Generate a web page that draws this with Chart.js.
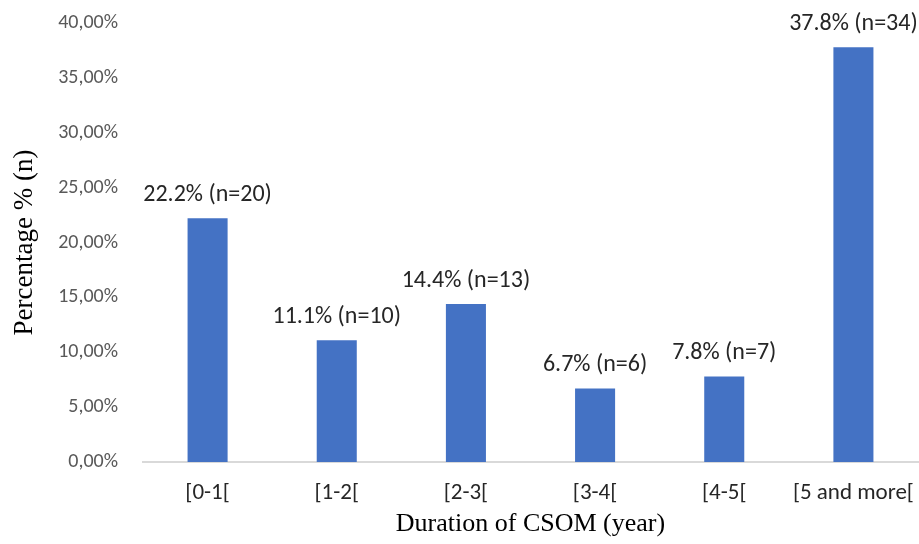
<!DOCTYPE html>
<html>
<head>
<meta charset="utf-8">
<script src="https://cdn.jsdelivr.net/npm/chart.js@4"></script>
<style>
  html, body { margin: 0; padding: 0; background: #fff; }
  #wrap { width: 919px; height: 544px; }
</style>
</head>
<body>
<div id="wrap"><canvas id="c" width="919" height="544"></canvas></div>
<script>
// Duration of chronic suppurative otitis media, share of patients per class
const categories = ['[0-1[', '[1-2[', '[2-3[', '[3-4[', '[4-5[', '[5 and more['];
const percentages = [22.2, 11.1, 14.4, 6.7, 7.8, 37.8];
const counts = [20, 10, 13, 6, 7, 34];
const yTicks = [0, 5, 10, 15, 20, 25, 30, 35, 40];

const tickFont = "Carlito, Lato, 'Liberation Sans', sans-serif";
const titleFont = "'Liberation Serif', 'DejaVu Serif', serif";

// Writes "xx.x% (n=..)" above each bar
const valueLabels = {
  id: 'valueLabels',
  afterDatasetsDraw(chart) {
    const ctx = chart.ctx;
    const meta = chart.getDatasetMeta(0);
    ctx.save();
    ctx.font = '24px ' + tickFont;
    ctx.fillStyle = '#262626';
    ctx.textAlign = 'center';
    ctx.textBaseline = 'alphabetic';
    meta.data.forEach((bar, i) => {
      const txt = percentages[i].toFixed(1) + '% (n=' + counts[i] + ')';
      ctx.fillText(txt, bar.x, bar.y - 17);
    });
    ctx.restore();
  }
};

new Chart(document.getElementById('c'), {
  type: 'bar',
  data: {
    labels: categories,
    datasets: [{
      data: percentages,
      backgroundColor: '#4472C4',
      borderWidth: 0,
      barPercentage: 1,
      categoryPercentage: 0.31
    }]
  },
  options: {
    responsive: false,
    animation: false,
    layout: { padding: { top: 23, right: 1, left: 0, bottom: 0 } },
    plugins: { legend: { display: false }, tooltip: { enabled: false } },
    scales: {
      x: {
        afterFit(scale) {
          scale.height = 82;
          scale.paddingLeft = 0;
          scale.paddingRight = 0;
        },
        grid: { display: false },
        border: { display: true, color: '#d9d9d9', width: 2 },
        ticks: { color: '#262626', font: { family: tickFont, size: 23 }, padding: 9, maxRotation: 0 },
        title: {
          display: true,
          text: 'Duration of CSOM (year)',
          color: '#000',
          font: { family: titleFont, size: 26 },
          padding: { top: 2, bottom: 4 }
        }
      },
      y: {
        min: 0,
        max: 40,
        afterBuildTicks(scale) { scale.ticks = yTicks.map(v => ({ value: v })); },
        afterFit(scale) {
          scale.width = 143;
          scale.paddingTop = 0;
          scale.paddingBottom = 0;
        },
        grid: { display: false, drawTicks: false },
        border: { display: false },
        ticks: {
          color: '#595959',
          font: { family: tickFont, size: 20 },
          padding: 25,
          callback: v => v.toFixed(2).replace('.', ',') + '%'
        },
        title: {
          display: true,
          text: 'Percentage % (n)',
          color: '#000',
          font: { family: titleFont, size: 27 },
          padding: { top: 9, bottom: 0 }
        }
      }
    }
  },
  plugins: [valueLabels]
});
</script>
</body>
</html>
